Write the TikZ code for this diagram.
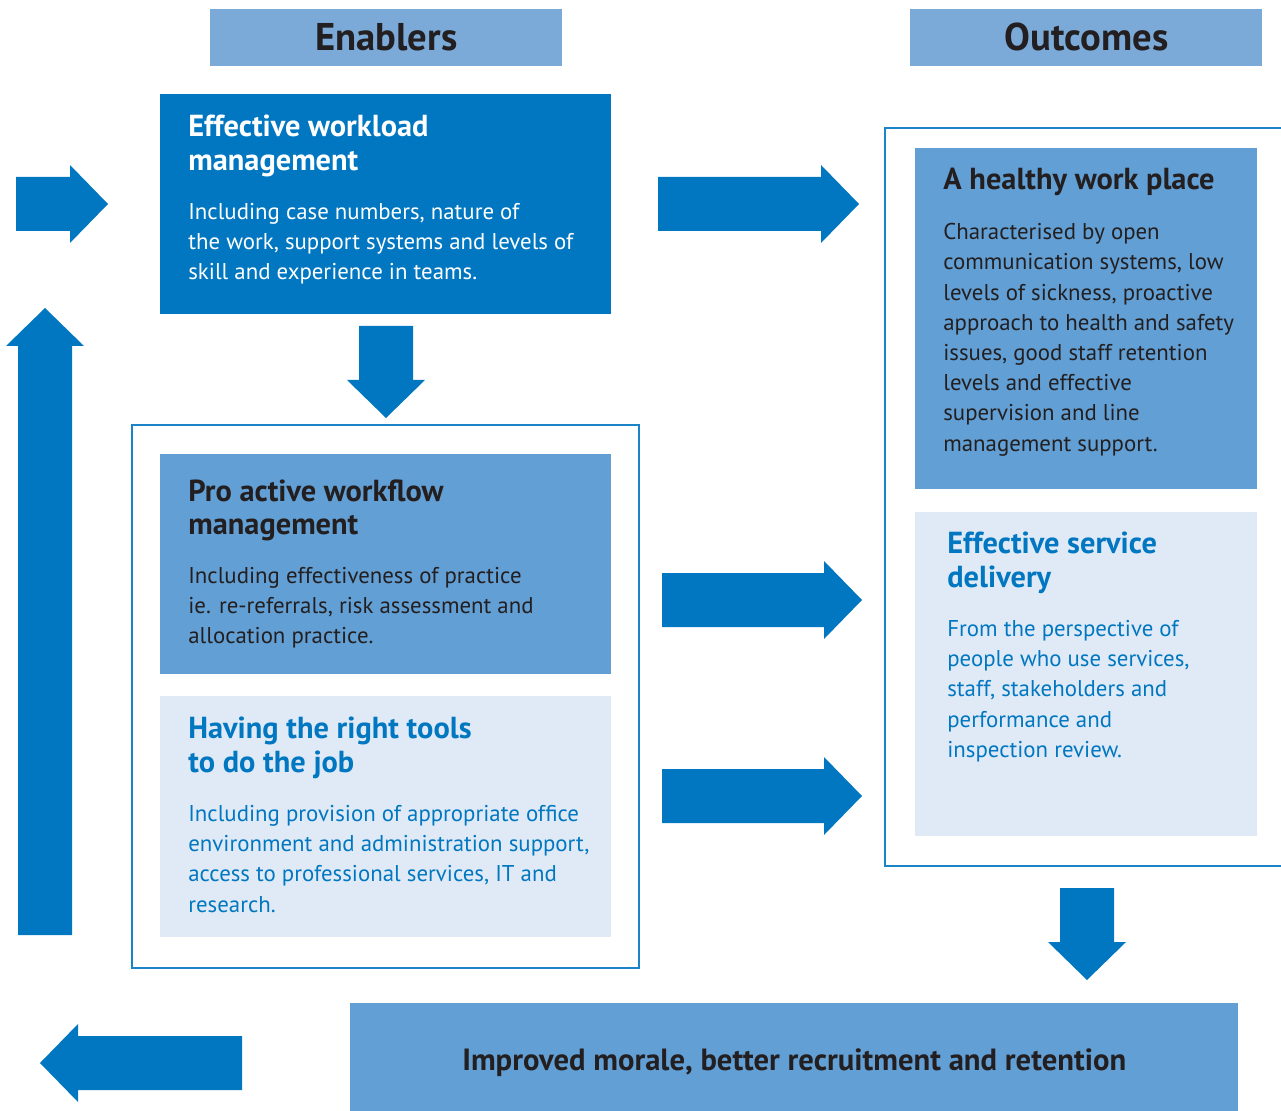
\documentclass[tikz,border=0pt]{standalone}
\usepackage{fontspec}
\setmainfont{PT Sans}
\usetikzlibrary{positioning}

\definecolor{darkblue}{HTML}{0077C0}
\definecolor{midblue}{HTML}{629FD4}
\definecolor{headblue}{HTML}{7BAAD9}
\definecolor{paleblue}{HTML}{E0EAF6}
\definecolor{inkgrey}{HTML}{231F20}
\definecolor{frameblue}{HTML}{1B84C8}

\tikzset{
    pics/fatarrow/.style={code={
        \fill[darkblue] (0,-27) -- (#1-38,-27) -- (#1-38,-39) -- (#1,0)
            -- (#1-38,39) -- (#1-38,27) -- (0,27) -- cycle;
    }}
}

\begin{document}
\begin{tikzpicture}[
            x = 0.02cm, y = -0.02cm, % one unit = one pixel of the sketch
            box/.style = {anchor = north west, inner sep = 0pt},
            titlebox/.style = {fill = headblue, minimum width = 7.04cm,
                minimum height = 1.14cm, inner sep = 0pt,
                font = \fontsize{22}{26}\selectfont\bfseries, text = inkgrey},
            frame/.style = {draw = frameblue, line width = 1.1pt},
            headtxt/.style = {anchor = north west, inner sep = 0pt, align = left,
                font = \fontsize{17.3}{19}\selectfont\bfseries},
            bodytxt/.style = {anchor = north west, inner sep = 0pt, align = left,
                font = \fontsize{13}{17.2}\selectfont}
        ]

    \useasboundingbox (0,0) rectangle (1281,1111);

    % column titles
    \node[titlebox, anchor = north west] (enablers) at (210,9) {\raisebox{1pt}{Enablers}};
    \node[titlebox, anchor = north west] (outcomes) at (910,9) {\raisebox{1pt}{Outcomes}};

    % frames
    \draw[frame] (132,425) rectangle (639,968);
    \draw[frame] (1300,128) -- (885,128) -- (885,866) -- (1300,866);

    % boxes
    \node[box, fill = darkblue, minimum width = 9.02cm, minimum height = 4.40cm] (workload) at (160,94) {};
    \node[box, fill = midblue, minimum width = 9.02cm, minimum height = 4.40cm] (proactive) at (160,454) {};
    \node[box, fill = paleblue, minimum width = 9.02cm, minimum height = 4.82cm] (tools) at (160,696) {};
    \node[box, fill = midblue, minimum width = 6.84cm, minimum height = 6.82cm] (healthy) at (915,148) {};
    \node[box, fill = paleblue, minimum width = 6.84cm, minimum height = 6.48cm] (service) at (915,512) {};
    \node[fill = midblue, minimum width = 17.76cm, minimum height = 2.36cm, inner sep = 0pt,
        anchor = north west, text = inkgrey, font = \fontsize{17.45}{20}\selectfont\bfseries]
        (morale) at (350,1003) {Improved morale, better recruitment and retention};

    % texts
    \node[headtxt, text = white] (workloadhead) at ([shift = {(28,21)}]workload.north west)
        {Effective workload\\management};
    \node[bodytxt, text = white] (workloadbody) at ([shift = {(28,109)}]workload.north west)
        {Including case numbers, nature of\\the work, support systems and levels of\\skill and experience in teams.};

    \node[headtxt, text = inkgrey] (proactivehead) at ([shift = {(28,25)}]proactive.north west)
        {Pro active workflow\\management};
    \node[bodytxt, text = inkgrey] (proactivebody) at ([shift = {(28,113)}]proactive.north west)
        {Including effectiveness of practice\\ie. re-referrals, risk assessment and\\allocation practice.};

    \node[headtxt, text = darkblue] (toolshead) at ([shift = {(28,21)}]tools.north west)
        {Having the right tools\\to do the job};
    \node[bodytxt, text = darkblue] (toolsbody) at ([shift = {(28,109)}]tools.north west)
        {Including provision of appropriate office\\environment and administration support,\\access to professional services, IT and\\research.};

    \node[headtxt, text = inkgrey] (healthyhead) at ([shift = {(28,20)}]healthy.north west)
        {A healthy work place};
    \node[bodytxt, text = inkgrey] (healthybody) at ([shift = {(28,75)}]healthy.north west)
        {Characterised by open\\communication systems, low\\levels of sickness, proactive\\approach to health and safety\\issues, good staff retention\\levels and effective\\supervision and line\\management support.};

    \node[headtxt, text = darkblue] (servicehead) at ([shift = {(32,20)}]service.north west)
        {Effective service\\delivery};
    \node[bodytxt, text = darkblue] (servicebody) at ([shift = {(32,108)}]service.north west)
        {From the perspective of\\people who use services,\\staff, stakeholders and\\performance and\\inspection review.};

    % block arrows
    \pic at (16,204) {fatarrow=92};
    \pic at (658,204) {fatarrow=201};
    \pic[rotate = -90] at (386,326) {fatarrow=92};
    \pic[rotate = 90] at (45,935) {fatarrow=627};
    \pic at (662,600) {fatarrow=200};
    \pic at (662,796) {fatarrow=200};
    \pic[rotate = -90] at (1087,888) {fatarrow=92};
    \pic[rotate = 180] at (242,1063) {fatarrow=202};

\end{tikzpicture}
\end{document}
